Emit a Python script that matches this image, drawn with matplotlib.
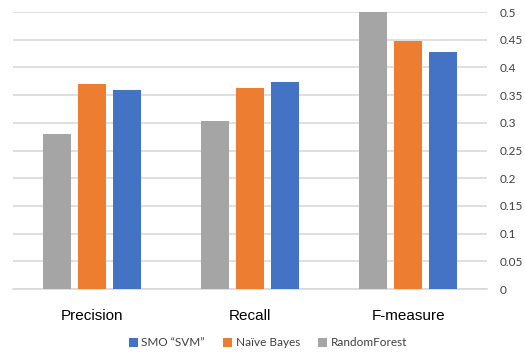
import numpy as np
import matplotlib.pyplot as plt

categories = ["Precision", "Recall", "F-measure"]
random_forest = [0.28, 0.304, 0.50]
naive_bayes = [0.37, 0.363, 0.448]
smo_svm = [0.36, 0.373, 0.428]
yticks = [0, 0.05, 0.1, 0.15, 0.2, 0.25, 0.3, 0.35, 0.4, 0.45, 0.5]
ytick_labels = ["0", "0.05", "0.1", "0.15", "0.2", "0.25", "0.3", "0.35", "0.4", "0.45", "0.5"]

plt.rcParams['font.family'] = ['Lato', 'DejaVu Sans']

fig = plt.figure(figsize=(5.25, 3.56), dpi=100)
ax = fig.add_axes([0.025, 0.188, 0.903, 0.778])

x = np.arange(len(categories))
w = 0.177
step = 0.222

ax.bar(x - step, random_forest, w, color="#A5A5A5", label="RandomForest", zorder=3)
ax.bar(x, naive_bayes, w, color="#ED7D31", label="Naïve Bayes", zorder=3)
ax.bar(x + step, smo_svm, w, color="#4472C4", label="SMO \u201cSVM\u201d", zorder=3)

ax.set_xlim(-0.5, 2.5)
ax.set_ylim(0, 0.5)
ax.set_yticks(yticks)
ax.set_yticklabels(ytick_labels, fontsize=8.5, color="#404040")
ax.yaxis.tick_right()
ax.tick_params(axis="y", length=0, pad=9)
ax.grid(axis="y", color="#D9D9D9", linewidth=1.2, zorder=0)

ax.set_xticks(x)
ax.set_xticklabels(categories, fontsize=11, family="Liberation Sans", color="black")
ax.tick_params(axis="x", length=0, pad=14)

for s in ["top", "left", "right"]:
    ax.spines[s].set_visible(False)
ax.spines["bottom"].set_color("#D9D9D9")
ax.spines["bottom"].set_linewidth(1.2)

handles, labels = ax.get_legend_handles_labels()
fig.legend(handles[::-1], labels[::-1], loc="center", bbox_to_anchor=(0.51, 0.037),
           ncol=3, frameon=False, fontsize=8.5, handlelength=0.8, handleheight=0.8,
           handletextpad=0.3, columnspacing=1.5, labelcolor="#404040")

fig.savefig("out.png", dpi=100)
